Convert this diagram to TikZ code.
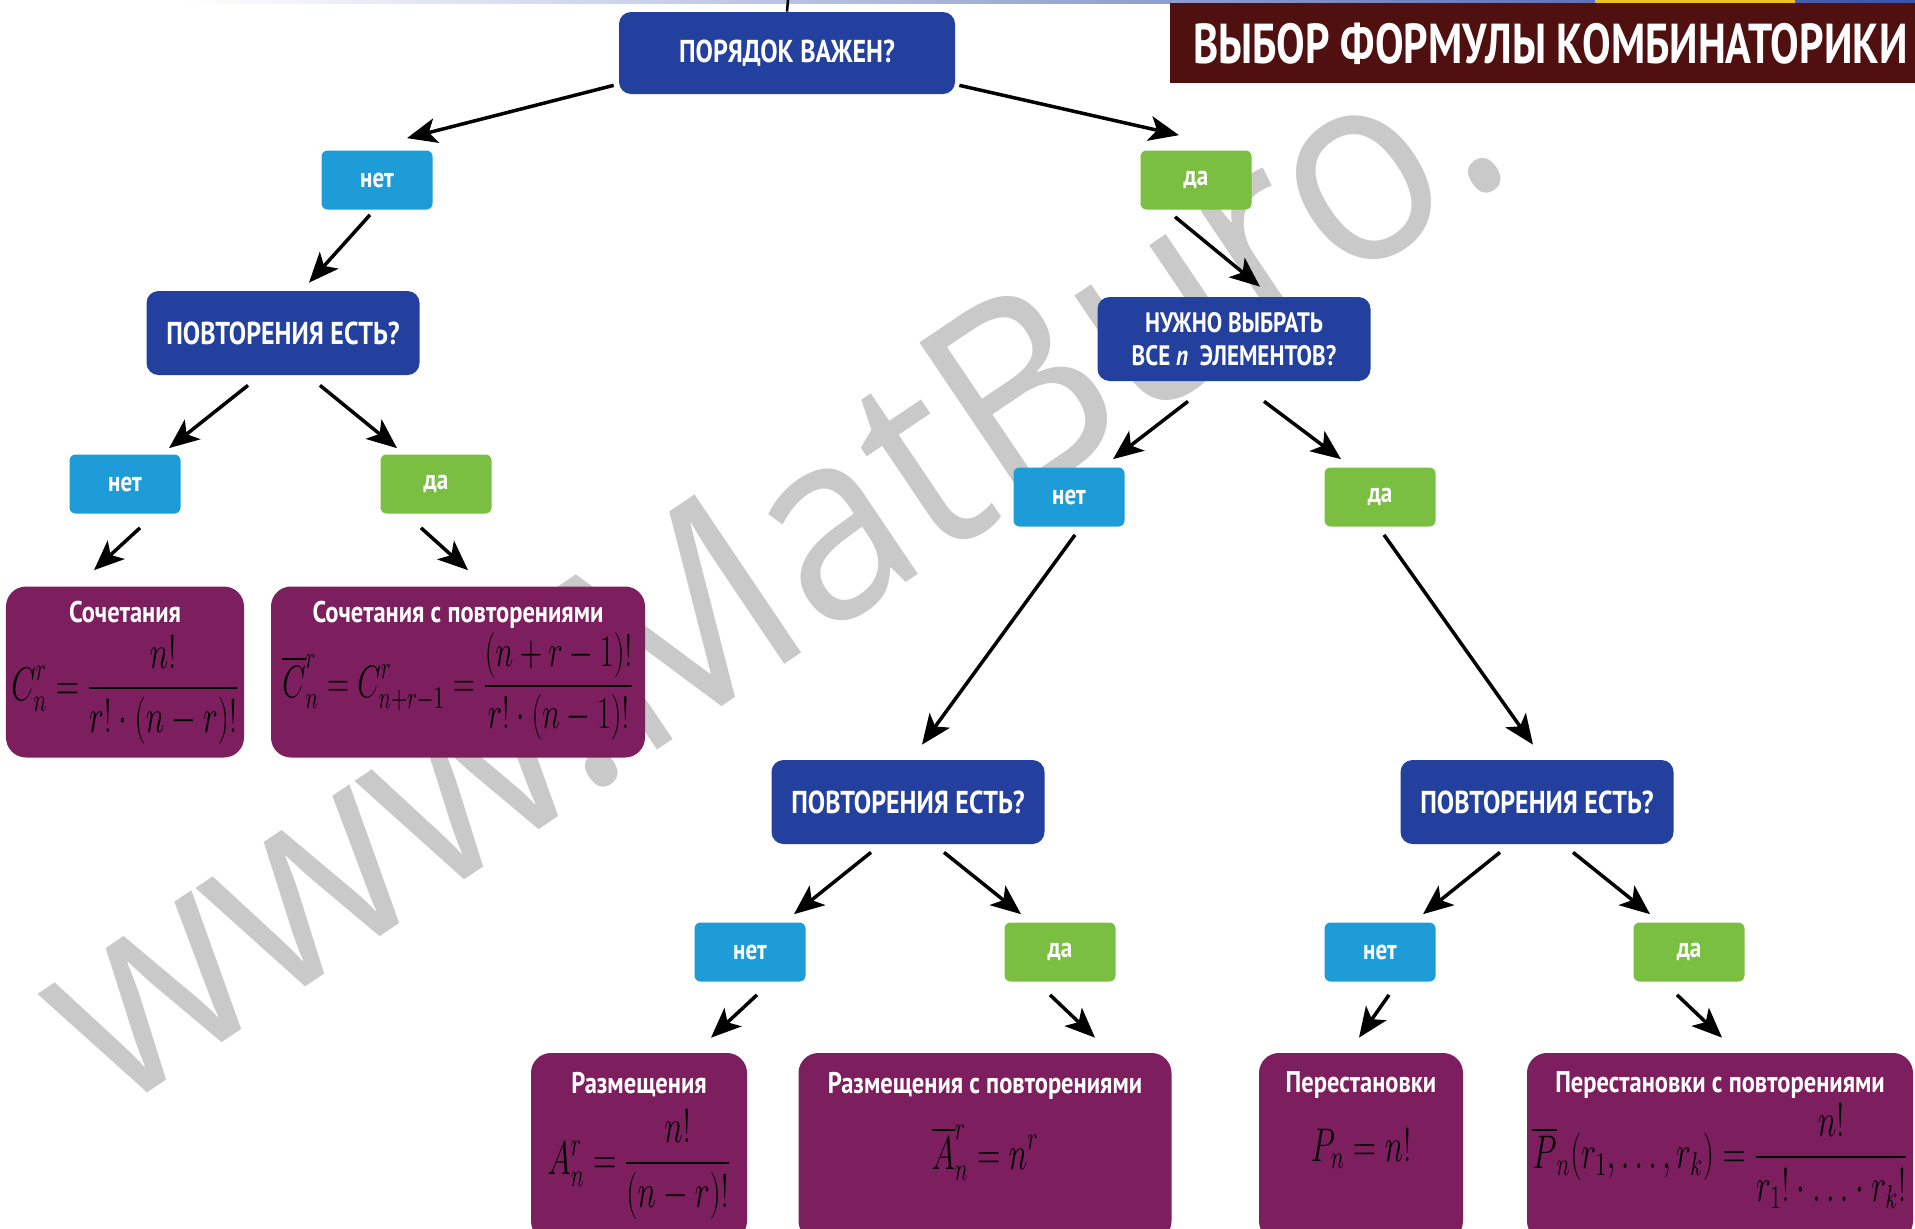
\RequirePackage{fix-cm}
\documentclass[tikz,border=0pt]{standalone}
\usepackage{amsmath}
\usepackage{graphicx}
\usepackage[no-math]{fontspec}
\setmainfont{PT Sans}
\newfontfamily\nodefont[FakeStretch=0.82]{PT Sans}
\newfontfamily\headfont[FakeStretch=0.76]{PT Sans}
\newfontfamily\wmfont{Open Sans}
\usetikzlibrary{positioning,arrows.meta}

\definecolor{qblue}{RGB}{36,64,158}
\definecolor{noblue}{RGB}{30,156,216}
\definecolor{yesgreen}{RGB}{122,190,66}
\definecolor{respurple}{RGB}{125,31,95}
\definecolor{headred}{RGB}{80,16,16}
\definecolor{wmgray}{RGB}{201,201,201}
\definecolor{stripblue}{RGB}{58,82,170}
\definecolor{stripgold}{RGB}{240,190,40}

\newcommand{\fml}[1]{\scalebox{0.75}[1.12]{$\displaystyle #1$}}

\begin{document}
\begin{tikzpicture}[on grid,
  qbox/.style={rectangle, rounded corners=0.24cm, fill=qblue, text=white, align=center,
    font=\nodefont\bfseries\fontsize{18}{21}\selectfont, minimum width=5.46cm, minimum height=1.68cm},
  nobox/.style={rectangle, rounded corners=0.12cm, fill=noblue, text=white,
    font=\nodefont\bfseries\fontsize{16}{19}\selectfont, minimum width=2.22cm, minimum height=1.18cm},
  yesbox/.style={nobox, fill=yesgreen},
  result/.style={rectangle, rounded corners=0.4cm, fill=respurple, minimum height=3.42cm},
  restitle/.style={text=white, inner sep=0pt, font=\nodefont\bfseries\fontsize{17}{20}\selectfont},
  formula/.style={text=black, inner sep=0pt, font=\fontsize{24}{28}\selectfont},
  headbox/.style={fill=headred, text=white, anchor=north west, minimum width=15.2cm, minimum height=1.6cm,
    font=\headfont\bfseries\fontsize{32}{36}\selectfont},
  wmtext/.style={text=wmgray, inner sep=0pt, font=\wmfont\fontsize{152}{152}\selectfont},
  arr/.style={-{Stealth[length=0.6cm,width=0.5cm,inset=0.15cm]}, line width=0.07cm, black}]

\useasboundingbox (0,0) rectangle (38.3,-24.56);
\clip (0,0) rectangle (38.3,-24.56);
\fill[white] (0,0) rectangle (38.3,-24.56);

\begin{scope}[shift={(2.3,-22.3)}, cm={0.763,0.514,-0.559,0.829,(0,0)}]
  \node[wmtext, transform shape, anchor=base west] (wm) at (0,0) {www.MatBuro.};
\end{scope}

\shade[left color=white, right color=stripblue] (3.6,0) rectangle (38.3,-0.07);
\fill[stripgold] (31.9,0) rectangle (35.9,-0.06);
\node[headbox] (head) at (23.4,-0.06) {ВЫБОР ФОРМУЛЫ КОМБИНАТОРИКИ};

\node[qbox, minimum width=6.72cm, minimum height=1.64cm] (top) at (15.74,-1.06) {ПОРЯДОК ВАЖЕН?};
\coordinate (topin) at (15.76,0);
\node[nobox] (n1) [below left=2.54cm and 8.2cm of top] {нет};
\node[yesbox] (y1) [below right=2.54cm and 8.18cm of top] {да};
\node[qbox] (q2l) [below left=3.06cm and 1.88cm of n1] {ПОВТОРЕНИЯ ЕСТЬ?};
\node[qbox, font=\nodefont\bfseries\fontsize{16}{19}\selectfont] (q2r) [below right=3.18cm and 0.76cm of y1]
  {НУЖНО ВЫБРАТЬ\\ВСЕ \textit{n}\ \ ЭЛЕМЕНТОВ?};
\node[nobox] (n3l) [below left=3.02cm and 3.16cm of q2l] {нет};
\node[yesbox] (y3l) [below right=3.02cm and 3.06cm of q2l] {да};
\node[nobox] (n3r) [below left=3.16cm and 3.3cm of q2r] {нет};
\node[yesbox] (y3r) [below right=3.16cm and 2.92cm of q2r] {да};
\node[result, minimum width=4.76cm] (c1) [below=3.76cm of n3l] {};
\node[result, minimum width=7.48cm] (c2) [below right=3.76cm and 0.44cm of y3l] {};
\node[qbox] (q4m) [below left=6.1cm and 3.22cm of n3r] {ПОВТОРЕНИЯ ЕСТЬ?};
\node[qbox] (q4r) [below right=6.1cm and 3.14cm of y3r] {ПОВТОРЕНИЯ ЕСТЬ?};
\node[nobox] (n5m) [below left=3cm and 3.16cm of q4m] {нет};
\node[yesbox] (y5m) [below right=3cm and 3.04cm of q4m] {да};
\node[nobox] (n5r) [below left=3cm and 3.14cm of q4r] {нет};
\node[yesbox] (y5r) [below right=3cm and 3.04cm of q4r] {да};
\node[result, minimum width=4.32cm, minimum height=3.76cm] (a1) [below left=3.9cm and 2.22cm of n5m] {};
\node[result, minimum width=7.46cm, minimum height=3.76cm] (a2) [below left=3.9cm and 1.5cm of y5m] {};
\node[result, minimum width=4.08cm, minimum height=3.76cm] (p1) [below left=3.9cm and 0.38cm of n5r] {};
\node[result, minimum width=7.72cm, minimum height=3.76cm] (p2) [below right=3.9cm and 0.62cm of y5r] {};

\node[restitle] (c1t) [below=0.3cm of c1.north, anchor=north] {Сочетания};
\node[formula] (c1f) [below=0.98cm of c1.north, anchor=north] {\fml{C_n^r=\frac{n!}{r!\cdot(n-r)!}}};
\node[restitle] (c2t) [below=0.3cm of c2.north, anchor=north] {Сочетания с повторениями};
\node[formula, font=\fontsize{23}{27}\selectfont] (c2f) [below=0.92cm of c2.north, anchor=north]
  {\fml{\overline{C}_n^r=C_{n+r-1}^r=\frac{(n+r-1)!}{r!\cdot(n-1)!}}};
\node[restitle] (a1t) [below=0.38cm of a1.north, anchor=north] {Размещения};
\node[formula] (a1f) [below=1.14cm of a1.north, anchor=north] {\fml{A_n^r=\frac{n!}{(n-r)!}}};
\node[restitle] (a2t) [below=0.38cm of a2.north, anchor=north] {Размещения с повторениями};
\node[formula] (a2f) [below=1.45cm of a2.north, anchor=north] {\fml{\overline{A}_n^r=n^r}};
\node[restitle] (p1t) [below=0.38cm of p1.north, anchor=north] {Перестановки};
\node[formula] (p1f) [below=1.52cm of p1.north, anchor=north] {\fml{P_n=n!}};
\node[restitle] (p2t) [below=0.38cm of p2.north, anchor=north] {Перестановки с повторениями};
\node[formula] (p2f) [below=1.02cm of p2.north, anchor=north]
  {\fml{\overline{P}_n(r_1,\ldots,r_k)=\frac{n!}{r_1!\cdot\ldots\cdot r_k!}}};

\draw[line width=0.05cm] (top.north) -- (topin);
\path[arr]
  ([xshift=-0.1cm,yshift=0.18cm]top.south west) edge ([xshift=0.6cm,yshift=0.24cm]n1.north)
  ([xshift=0.08cm,yshift=0.18cm]top.south east) edge ([xshift=-0.34cm,yshift=0.3cm]y1.north)
  ([xshift=-0.14cm,yshift=-0.1cm]n1.south) edge ([xshift=0.52cm,yshift=0.16cm]q2l.north)
  ([xshift=-0.42cm,yshift=-0.14cm]y1.south) edge ([xshift=0.52cm,yshift=0.2cm]q2r.north)
  ([xshift=-0.7cm,yshift=-0.2cm]q2l.south) edge ([xshift=0.88cm,yshift=0.12cm]n3l.north)
  ([xshift=0.74cm,yshift=-0.2cm]q2l.south) edge ([xshift=-0.78cm,yshift=0.12cm]y3l.north)
  ([xshift=-0.92cm,yshift=-0.4cm]q2r.south) edge ([xshift=0.88cm,yshift=0.16cm]n3r.north)
  ([xshift=0.6cm,yshift=-0.4cm]q2r.south) edge ([xshift=-0.78cm,yshift=0.16cm]y3r.north)
  ([xshift=0.3cm,yshift=-0.28cm]n3l.south) edge ([xshift=-0.62cm,yshift=0.32cm]c1.north)
  ([xshift=-0.3cm,yshift=-0.28cm]y3l.south) edge ([xshift=0.2cm,yshift=0.32cm]c2.north)
  ([xshift=0.12cm,yshift=-0.16cm]n3r.south) edge ([xshift=0.28cm,yshift=0.3cm]q4m.north)
  ([xshift=0.08cm,yshift=-0.16cm]y3r.south) edge ([xshift=-0.08cm,yshift=0.3cm]q4r.north)
  ([xshift=-0.74cm,yshift=-0.16cm]q4m.south) edge ([xshift=0.88cm,yshift=0.16cm]n5m.north)
  ([xshift=0.72cm,yshift=-0.16cm]q4m.south) edge ([xshift=-0.78cm,yshift=0.16cm]y5m.north)
  ([xshift=-0.74cm,yshift=-0.16cm]q4r.south) edge ([xshift=0.86cm,yshift=0.16cm]n5r.north)
  ([xshift=0.72cm,yshift=-0.16cm]q4r.south) edge ([xshift=-0.78cm,yshift=0.16cm]y5r.north)
  ([xshift=0.14cm,yshift=-0.26cm]n5m.south) edge ([xshift=1.44cm,yshift=0.3cm]a1.north)
  ([xshift=-0.2cm,yshift=-0.26cm]y5m.south) edge ([xshift=2.2cm,yshift=0.3cm]a2.north)
  ([xshift=0.18cm,yshift=-0.26cm]n5r.south) edge ([xshift=-0.04cm,yshift=0.3cm]p1.north)
  ([xshift=-0.24cm,yshift=-0.26cm]y5r.south) edge ([xshift=0.04cm,yshift=0.3cm]p2.north);
\end{tikzpicture}
\end{document}
